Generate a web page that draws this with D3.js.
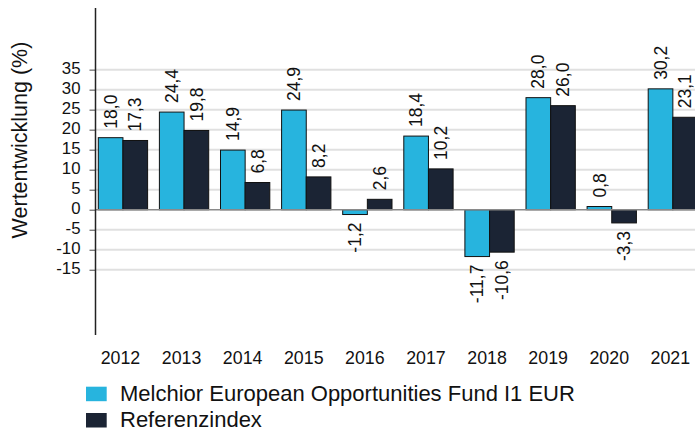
<!DOCTYPE html>
<html>
  <head>
    <style>
      html, body { margin: 0; padding: 0; background: #fff; }
      svg { display: block; font-family: 'Liberation Sans', Arial, sans-serif; }
    </style>
  </head>
  <body>
    <svg id="svg" width="695" height="430"></svg>
    <script src="https://cdn.jsdelivr.net/npm/d3@7"></script>
    <script>
      const years = ['2012', '2013', '2014', '2015', '2016', '2017', '2018', '2019', '2020', '2021'];
      const fundValues = [18.0, 24.4, 14.9, 24.9, -1.2, 18.4, -11.7, 28.0, 0.8, 30.2];
      const indexValues = [17.3, 19.8, 6.8, 8.2, 2.6, 10.2, -10.6, 26.0, -3.3, 23.1];
      const seriesNames = ['Melchior European Opportunities Fund I1 EUR', 'Referenzindex'];
      const yTicks = [35, 30, 25, 20, 15, 10, 5, 0, -5, -10, -15];

      const colors = ['#27b4de', '#1b2434'];
      const svg = d3.select('#svg');

      const y = d3.scaleLinear().domain([-31.3, 50.4]).range([335, 8]);
      const x = d3.scaleBand().domain(years).range([92.4, 703.4])
        .paddingInner(0.193).paddingOuter(0.0965);
      const xs = d3.scaleBand().domain([0, 1]).range([0, x.bandwidth()]);

      // grid lines
      svg.append('g')
        .selectAll('line')
        .data(yTicks.filter((d) => d !== 0))
        .enter()
        .append('line')
        .attr('x1', 95)
        .attr('x2', 695)
        .attr('y1', (d) => y(d))
        .attr('y2', (d) => y(d))
        .attr('stroke', '#e0e0e0')
        .attr('stroke-width', 2);

      // y axis
      const yAxis = d3.axisLeft(y).tickValues(yTicks).tickSize(6).tickPadding(9)
        .tickFormat((d) => d);
      const ya = svg.append('g').attr('transform', 'translate(95.5,0)').call(yAxis);
      ya.select('.domain').remove();
      ya.selectAll('.tick line').attr('stroke', '#666').attr('stroke-width', 1.2);
      ya.selectAll('.tick text')
        .attr('font-size', '16.8px')
        .attr('fill', '#111')
        .attr('font-family', 'Liberation Sans, Arial, sans-serif')
        .attr('dy', '0.25em');

      const data = years.map((yr, i) => ({ year: yr, vals: [fundValues[i], indexValues[i]] }));

      const groups = svg.append('g')
        .selectAll('g')
        .data(data)
        .enter()
        .append('g')
        .attr('transform', (d) => `translate(${x(d.year)},0)`);

      groups.selectAll('rect')
        .data((d) => d.vals)
        .enter()
        .append('rect')
        .attr('x', (d, i) => xs(i))
        .attr('width', xs.bandwidth())
        .attr('y', (d) => y(Math.max(0, d)))
        .attr('height', (d) => Math.abs(y(d) - y(0)))
        .attr('fill', (d, i) => colors[i])
        .attr('stroke', '#111')
        .attr('stroke-width', 1);

      // zero line
      svg.append('line')
        .attr('x1', 95).attr('x2', 695)
        .attr('y1', y(0)).attr('y2', y(0))
        .attr('stroke', '#8a8a8a')
        .attr('stroke-width', 1.5);

      // value labels
      groups.selectAll('text.val')
        .data((d) => d.vals)
        .enter()
        .append('text')
        .attr('class', 'val')
        .attr('transform', (d, i) => {
          const cx = xs(i) + xs.bandwidth() / 2;
          const cy = d >= 0 ? y(d) - 9 : y(d) + 8;
          return `translate(${cx},${cy}) rotate(-90)`;
        })
        .attr('text-anchor', (d) => (d >= 0 ? 'start' : 'end'))
        .attr('dy', '0.35em')
        .attr('font-size', '17.5px')
        .attr('fill', '#111')
        .text((d) => d3.format('.1f')(d).replace('.', ',').replace('−', '-'));

      // y axis line
      svg.append('line')
        .attr('x1', 95.5).attr('x2', 95.5)
        .attr('y1', 8).attr('y2', 335)
        .attr('stroke', '#222')
        .attr('stroke-width', 1.5);

      // x labels
      svg.append('g')
        .selectAll('text')
        .data(years)
        .enter()
        .append('text')
        .attr('x', (d) => x(d) + x.bandwidth() / 2 - 2.5)
        .attr('y', 364)
        .attr('text-anchor', 'middle')
        .attr('font-size', '17.8px')
        .attr('fill', '#111')
        .text((d) => d);

      // y title
      svg.append('text')
        .attr('transform', 'translate(27,140) rotate(-90)')
        .attr('text-anchor', 'middle')
        .attr('font-size', '21.5px')
        .attr('fill', '#111')
        .text('Wertentwicklung (%)');

      // legend
      const legend = svg.append('g')
        .selectAll('g')
        .data(seriesNames)
        .enter()
        .append('g')
        .attr('transform', (d, i) => `translate(86,${386.7 + i * 26.3})`);
      legend.append('rect')
        .attr('width', 20.7)
        .attr('height', 14.5)
        .attr('fill', (d, i) => colors[i]);
      legend.append('text')
        .attr('x', 34)
        .attr('y', 14.2)
        .attr('font-size', '22px')
        .attr('fill', '#111')
        .text((d) => d);
    </script>
  </body>
</html>
